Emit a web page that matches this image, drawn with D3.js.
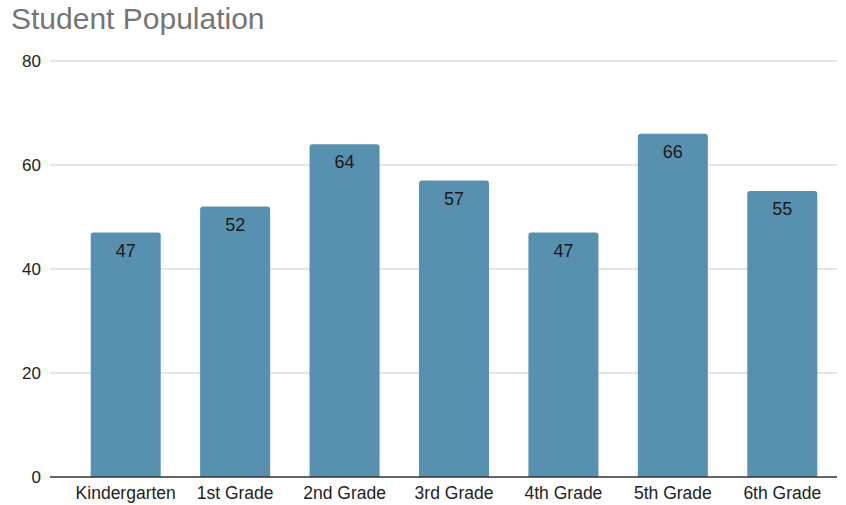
<!DOCTYPE html>
<html>
<head>
<meta charset="utf-8">
<script src="https://cdn.jsdelivr.net/npm/d3@7"></script>
<style>
  body { margin: 0; background: #fff; }
  text { font-family: "Liberation Sans", Arial, sans-serif; }
</style>
</head>
<body>
<div class="chart"></div>
<script>
// chart data
var grades = ["Kindergarten", "1st Grade", "2nd Grade", "3rd Grade", "4th Grade", "5th Grade", "6th Grade"];
var students = [47, 52, 64, 57, 47, 66, 55];
var yTicks = [0, 20, 40, 60, 80];

var svgWidth = 846;
var svgHeight = 505;

var svg = d3.select(".chart")
    .append("svg")
    .attr("width", svgWidth)
    .attr("height", svgHeight);

// title
svg.append("text")
    .attr("x", 11)
    .attr("y", 29)
    .style("font-size", "30px")
    .style("fill", "#757575")
    .text("Student Population");

var xScale = d3.scaleBand()
    .domain(grades)
    .range([71, 837])
    .paddingInner(0.36)
    .paddingOuter(0.18);

var yScale = d3.scaleLinear()
    .domain([0, 80])
    .range([477, 61]);

// gridlines
svg.append("g")
    .selectAll("line")
    .data(yTicks.slice(1))
    .enter().append("line")
    .attr("x1", 50)
    .attr("x2", 837)
    .attr("y1", function(d) { return yScale(d); })
    .attr("y2", function(d) { return yScale(d); })
    .attr("stroke", "#cccccc")
    .attr("stroke-width", 1);

// y tick labels
var leftAxis = d3.axisLeft(yScale).tickValues(yTicks).tickSize(0).tickPadding(0);
var yAxis = svg.append("g")
    .attr("transform", "translate(41,0)")
    .call(leftAxis);
yAxis.select(".domain").remove();
yAxis.selectAll("text")
    .style("font-size", "17px")
    .style("fill", "#222")
    .style("font-family", "Liberation Sans, Arial, sans-serif");

// bars with rounded tops
function barPath(x, y, w, h, r) {
  return "M" + x + "," + (y + h) +
    "V" + (y + r) +
    "Q" + x + "," + y + " " + (x + r) + "," + y +
    "H" + (x + w - r) +
    "Q" + (x + w) + "," + y + " " + (x + w) + "," + (y + r) +
    "V" + (y + h) + "Z";
}

svg.append("g")
    .selectAll("path")
    .data(students)
    .enter().append("path")
    .attr("d", function(d, i) {
      var x = xScale(grades[i]);
      var y = yScale(d);
      return barPath(x, y, xScale.bandwidth(), yScale(0) - y, 3);
    })
    .attr("fill", "#5891b0");

// value labels
svg.append("g")
    .selectAll("text")
    .data(students)
    .enter().append("text")
    .attr("x", function(d, i) { return xScale(grades[i]) + xScale.bandwidth() / 2; })
    .attr("y", function(d) { return yScale(d) + 24; })
    .attr("text-anchor", "middle")
    .style("font-size", "18px")
    .style("fill", "#1a1a1a")
    .text(function(d) { return d; });

// x axis
var bottomAxis = d3.axisBottom(xScale).tickSize(0).tickPadding(10);
var xAxis = svg.append("g")
    .attr("transform", "translate(0,477)")
    .call(bottomAxis);
xAxis.select(".domain").remove();
xAxis.selectAll("text")
    .style("font-size", "17.5px")
    .style("fill", "#222")
    .style("font-family", "Liberation Sans, Arial, sans-serif");

svg.append("line")
    .attr("x1", 50)
    .attr("x2", 837)
    .attr("y1", yScale(0))
    .attr("y2", yScale(0))
    .attr("stroke", "#333")
    .attr("stroke-width", 1.5);
</script>
</body>
</html>
